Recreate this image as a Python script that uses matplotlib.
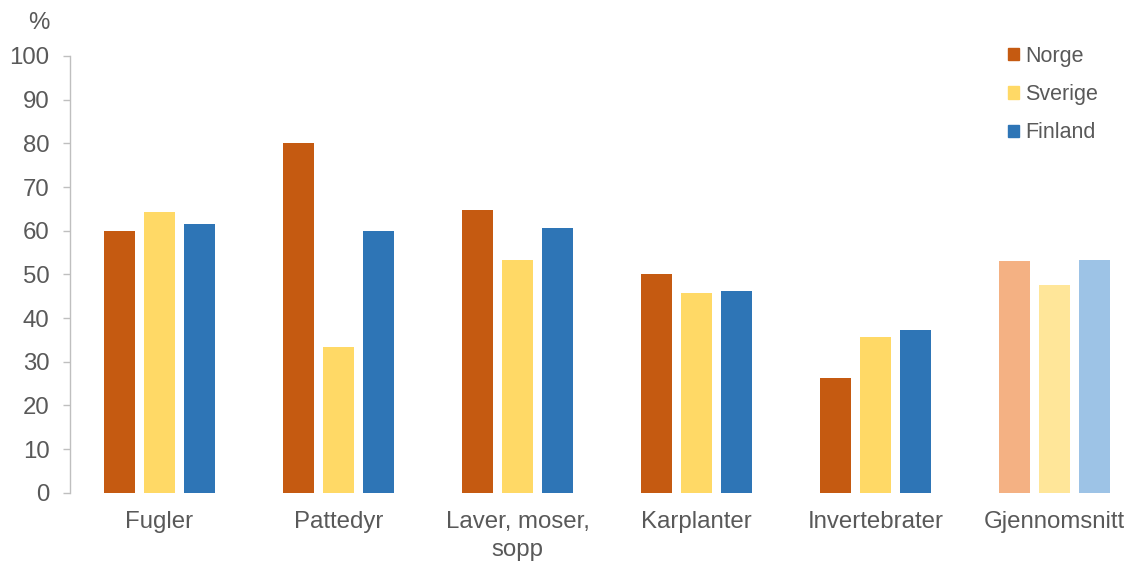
import matplotlib
matplotlib.use("Agg")
import matplotlib.pyplot as plt
import numpy as np

plt.rcParams['font.family'] = ['Liberation Sans', 'DejaVu Sans']

categories = ["Fugler", "Pattedyr", "Laver, moser,\nsopp", "Karplanter", "Invertebrater", "Gjennomsnitt"]
series_names = ["Norge", "Sverige", "Finland"]
norge = [60.0, 80.0, 64.7, 50.0, 26.2, 53.0]
sverige = [64.3, 33.3, 53.4, 45.7, 35.7, 47.5]
finland = [61.5, 60.0, 60.5, 46.3, 37.3, 53.2]
y_ticks = [0, 10, 20, 30, 40, 50, 60, 70, 80, 90, 100]

base_colors = ["#C55A11", "#FFD966", "#2E75B6"]
light_colors = ["#F4B183", "#FFE699", "#9DC3E6"]
text_color = "#595959"
fs = 17.3
legend_fs = 15.5

fig = plt.figure(figsize=(11.24, 5.61), dpi=100)
W, H = 1124, 561
ax = fig.add_axes([70 / W, (H - 492.7) / H, (W - 70) / W, (492.7 - 56) / H])

x = np.arange(len(categories))
width = 0.175
step = 0.222
handles = []
for i, (name, vals) in enumerate(zip(series_names, [norge, sverige, finland])):
    colors = [base_colors[i]] * (len(categories) - 1) + [light_colors[i]]
    ax.bar(x + (i - 1) * step, vals, width=width, color=colors, label=name, zorder=2)
    handles.append(plt.Rectangle((0, 0), 1, 1, color=base_colors[i]))

ax.set_ylim(0, 100)
ax.set_xlim(-0.5, -0.5 + (W - 70) / 179.0)
ax.set_yticks(y_ticks)
ax.set_xticks(x)
ax.set_xticklabels(categories, fontsize=fs, color=text_color, linespacing=1.3)
ax.tick_params(axis='x', length=0, pad=13.5)
ax.tick_params(axis='y', length=5.3, width=1, color="#BFBFBF", labelsize=fs,
               labelcolor=text_color, pad=9.5)

for s in ["top", "right", "bottom"]:
    ax.spines[s].set_visible(False)
ax.spines["left"].set_color("#BFBFBF")
ax.spines["left"].set_linewidth(1)

fig.text(39 / W, 1 - 23 / H, "%", fontsize=fs, color=text_color, ha="center", va="center")

leg = fig.legend(handles, series_names, loc="upper left",
                 bbox_to_anchor=(1008 / W, 1 - 46 / H), frameon=False,
                 fontsize=legend_fs, handlelength=0.5, handleheight=0.5,
                 handletextpad=0.3, labelspacing=0.8, borderaxespad=0,
                 borderpad=0)
for t in leg.get_texts():
    t.set_color(text_color)

fig.savefig("out.png", dpi=100)
